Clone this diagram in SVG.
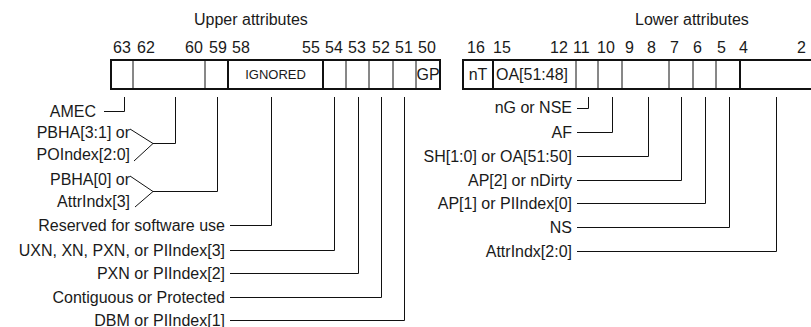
<svg xmlns="http://www.w3.org/2000/svg" width="811" height="327" viewBox="0 0 811 327">
<style>
text{font-family:"Liberation Sans",Arial,sans-serif;font-size:16px;fill:#1a1a1a}
.r{text-anchor:end}
.m{text-anchor:middle}
.box{fill:#fff;stroke:#111;stroke-width:2}
.thin{stroke:#111;stroke-width:1;fill:none}
.thick{stroke:#111;stroke-width:2;fill:none}
.conn{stroke:#111;stroke-width:1;fill:none}
.small{font-size:13px}
</style>
<rect width="811" height="327" fill="#fff"/>
<g id="titles">
<text x="194" y="25">Upper attributes</text>
<text x="635" y="25">Lower attributes</text>
</g>
<g id="bit-numbers">
<text x="113" y="53">63</text>
<text x="137" y="53">62</text>
<text x="185" y="53">60</text>
<text x="209" y="53">59</text>
<text x="232" y="53">58</text>
<text x="302" y="53">55</text>
<text x="325" y="53">54</text>
<text x="348" y="53">53</text>
<text x="372" y="53">52</text>
<text x="395" y="53">51</text>
<text x="418" y="53">50</text>
<text x="467" y="53">16</text>
<text x="493" y="53">15</text>
<text x="550" y="53">12</text>
<text x="573" y="53">11</text>
<text x="597" y="53">10</text>
<text x="625" y="53">9</text>
<text x="647" y="53">8</text>
<text x="670" y="53">7</text>
<text x="693" y="53">6</text>
<text x="717" y="53">5</text>
<text x="739" y="53">4</text>
<text x="797" y="53">2</text>
</g>
<g id="upper-attributes">
<rect class="box" x="111" y="60" width="329" height="29"/>
<path class="thin" d="M133 60V89M205 60V89M346 60V89M369 60V89M393 60V89M416 60V89"/>
<path class="thick" d="M228 60V89M323 60V89"/>
<text class="m small" x="275.5" y="79">IGNORED</text>
<text class="m" x="428" y="80">GP</text>
</g>
<g id="lower-attributes">
<rect class="box" x="463" y="60" width="352" height="29"/>
<path class="thin" d="M576 60V89M598 60V89M622 60V89M669 60V89M693 60V89M716 60V89"/>
<path class="thick" d="M493 60V89M740 60V89"/>
<text class="m" x="478" y="80">nT</text>
<text x="496" y="80">OA[51:48]</text>
</g>
<g id="upper-labels">
<text class="r" x="96" y="117">AMEC</text>
<text class="r" x="130" y="138">PBHA[3:1] or</text>
<text class="r" x="130" y="160">POIndex[2:0]</text>
<text class="r" x="130" y="185">PBHA[0] or</text>
<text class="r" x="130" y="207">AttrIndx[3]</text>
<text class="r" x="225" y="230.5">Reserved for software use</text>
<text class="r" x="225" y="255.5">UXN, XN, PXN, or PIIndex[3]</text>
<text class="r" x="225" y="278.5">PXN or PIIndex[2]</text>
<text class="r" x="225" y="302.5">Contiguous or Protected</text>
<text class="r" x="225" y="325.5">DBM or PIIndex[1]</text>
</g>
<g id="lower-labels">
<text class="r" x="572" y="113">nG or NSE</text>
<text class="r" x="572" y="137.5">AF</text>
<text class="r" x="572" y="161.5">SH[1:0] or OA[51:50]</text>
<text class="r" x="572" y="185.5">AP[2] or nDirty</text>
<text class="r" x="572" y="208.5">AP[1] or PIIndex[0]</text>
<text class="r" x="572" y="232.5">NS</text>
<text class="r" x="572" y="256.5">AttrIndx[2:0]</text>
</g>
<g id="connectors">
<path class="conn" d="M104 111.5H124.5V97"/>
<path class="conn" d="M130 129L153 143.5L134 161M153 143.5H175.5V97"/>
<path class="conn" d="M130 176L153 191.5L135 207M153 191.5H217.5V97"/>
<path class="conn" d="M230 225.5H271.5V97"/>
<path class="conn" d="M230 250.5H334.5V97"/>
<path class="conn" d="M230 273.5H358.5V97"/>
<path class="conn" d="M230 297.5H381.5V97"/>
<path class="conn" d="M230 320.5H404.5V97"/>
<path class="conn" d="M577 108.5H588.5V97"/>
<path class="conn" d="M577 132.5H612.5V97"/>
<path class="conn" d="M577 156.5H648.5V97"/>
<path class="conn" d="M577 180.5H681.5V97"/>
<path class="conn" d="M577 203.5H705.5V97"/>
<path class="conn" d="M577 227.5H729.5V97"/>
<path class="conn" d="M577 251.5H776.5V97"/>
</g>
</svg>
